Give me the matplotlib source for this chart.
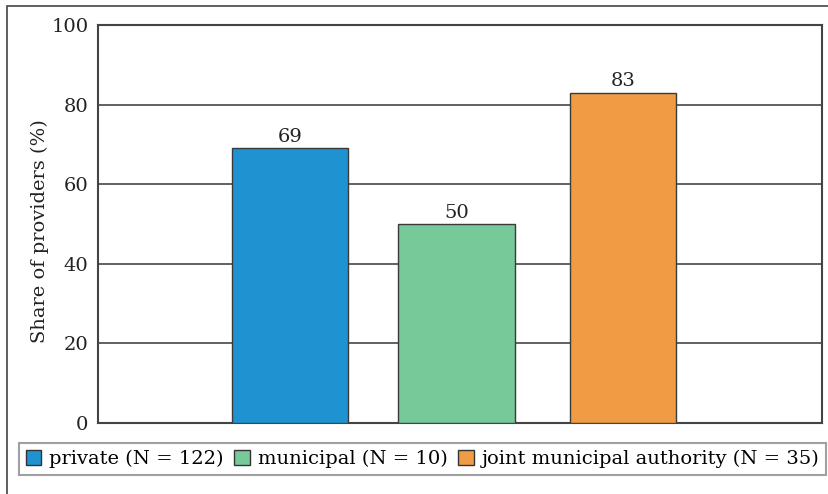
import matplotlib
matplotlib.use("Agg")
import matplotlib.pyplot as plt
from matplotlib.patches import Rectangle, Patch

categories = ["private (N = 122)", "municipal (N = 10)", "joint municipal authority (N = 35)"]
values = [69, 50, 83]
colors = ["#1f93d1", "#78c99a", "#f09c45"]
yticks = [0, 20, 40, 60, 80, 100]

plt.rcParams["font.family"] = ["DejaVu Serif"]
FS = 14
W, H = 829, 494
fig = plt.figure(figsize=(W / 100, H / 100), dpi=100)

# outer frame (left and top edges visible)
fig.patches.append(Rectangle((7 / W, -0.1), 1.2, 1 - 6 / H + 0.1, transform=fig.transFigure,
                             fill=False, edgecolor="#444444", lw=1.2, clip_on=False))

ax = fig.add_axes([98 / W, 1 - 423 / H, (822 - 98) / W, (423 - 25) / H])
x = [0, 1, 2]
widths = [0.70, 0.70, 0.64]
ax.set_axisbelow(True)
ax.bar(x, values, width=widths, color=colors, edgecolor="#3a3a3a", linewidth=1.0, zorder=3)
for xi, v in zip(x, values):
    ax.text(xi, v + 0.6, f"{v}", ha="center", va="bottom", fontsize=FS, color="#222222")

ax.set_xlim(-1.152, 3.196)
ax.set_ylim(0, 100)
ax.set_yticks(yticks)
ax.set_yticklabels([str(t) for t in yticks], fontsize=FS, color="#222222")
ax.tick_params(axis="y", length=0, pad=7)
ax.set_xticks([])
ax.yaxis.grid(True, color="#555555", lw=1.3)
for s in ax.spines.values():
    s.set_color("#444444")
    s.set_linewidth(1.5)
ax.set_ylabel("Share of providers (%)", fontsize=FS, color="#222222")
ax.yaxis.set_label_coords(-0.068, 0.482)

handles = [Patch(facecolor=c, edgecolor="#333333") for c in colors]
leg = fig.legend(handles, categories, loc="upper left", bbox_to_anchor=(19 / W, 1 - 443 / H),
                 ncol=3, fontsize=FS, frameon=True, fancybox=False, handlelength=0.8,
                 handleheight=0.8, handletextpad=0.4, columnspacing=0.55, borderpad=0.35,
                 borderaxespad=0)
leg.get_frame().set_edgecolor("#888888")
leg.get_frame().set_linewidth(1.5)

fig.savefig("out.png", dpi=100)
